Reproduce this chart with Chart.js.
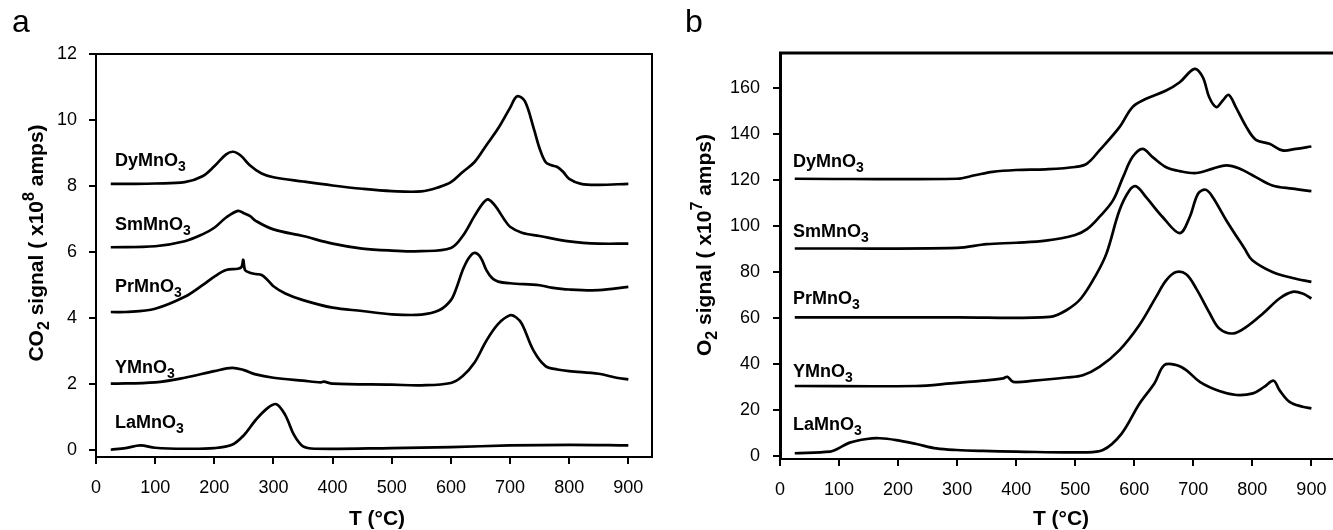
<!DOCTYPE html>
<html>
<head>
<meta charset="utf-8">
<script src="https://cdn.jsdelivr.net/npm/chart.js@4"></script>
<style>
  body { margin: 0; background: #fff; overflow: hidden; }
  #wrap { position: relative; width: 1333px; height: 530px; overflow: hidden; }
  canvas { position: absolute; top: 0; }
</style>
</head>
<body>
<div id="wrap">
  <canvas id="chartA" width="666" height="530" style="left:0"></canvas>
  <canvas id="chartB" width="690" height="530" style="left:666px"></canvas>
</div>
<script>
// ---- panel a: CO2 signal (x10^8 amps) vs T (°C) ----
const laCO2T = [25, 50, 75, 100, 150, 200, 230, 250, 270, 290, 305, 320, 335, 350, 370, 500, 600, 700, 800, 900];
const laCO2 = [0.02, 0.07, 0.15, 0.08, 0.05, 0.07, 0.17, 0.46, 0.92, 1.28, 1.4, 1.07, 0.46, 0.12, 0.05, 0.07, 0.1, 0.15, 0.17, 0.15];

const yCO2T = [25, 100, 150, 200, 230, 250, 270, 300, 350, 380, 385, 400, 500, 550, 600, 620, 640, 660, 680, 700, 710, 720, 740, 760, 780, 800, 850, 880, 900];
const yCO2 = [2.02, 2.06, 2.2, 2.4, 2.5, 2.43, 2.3, 2.2, 2.11, 2.06, 2.08, 2.02, 1.99, 1.97, 2.04, 2.25, 2.66, 3.32, 3.83, 4.09, 4.03, 3.83, 3.01, 2.55, 2.45, 2.4, 2.32, 2.2, 2.15];

const prCO2T = [25, 50, 100, 150, 180, 200, 220, 240, 246, 249, 252, 260, 270, 280, 290, 300, 320, 350, 400, 450, 500, 550, 580, 600, 610, 620, 630, 640, 650, 660, 670, 680, 700, 750, 770, 800, 850, 900];
const prCO2 = [4.19, 4.19, 4.29, 4.65, 5.0, 5.26, 5.46, 5.5, 5.55, 5.77, 5.46, 5.38, 5.34, 5.31, 5.16, 4.97, 4.75, 4.55, 4.32, 4.22, 4.12, 4.11, 4.24, 4.55, 4.95, 5.46, 5.82, 5.98, 5.85, 5.46, 5.21, 5.11, 5.06, 5.0, 4.93, 4.87, 4.85, 4.95];

const smCO2T = [25, 100, 150, 180, 200, 220, 240, 250, 260, 270, 300, 350, 400, 450, 500, 550, 600, 620, 640, 655, 663, 675, 690, 700, 720, 750, 800, 850, 900];
const smCO2 = [6.15, 6.18, 6.33, 6.54, 6.74, 7.05, 7.25, 7.18, 7.1, 6.95, 6.69, 6.49, 6.26, 6.11, 6.05, 6.03, 6.13, 6.49, 7.1, 7.5, 7.6, 7.4, 7.0, 6.77, 6.59, 6.49, 6.33, 6.26, 6.26];

const dyCO2T = [25, 60, 100, 150, 180, 200, 220, 232, 245, 260, 280, 300, 350, 400, 450, 500, 550, 580, 600, 620, 640, 660, 680, 700, 712, 725, 740, 750, 760, 770, 780, 790, 800, 820, 850, 900];
const dyCO2 = [8.07, 8.07, 8.08, 8.12, 8.3, 8.6, 8.96, 9.04, 8.92, 8.63, 8.38, 8.27, 8.14, 8.02, 7.92, 7.85, 7.84, 7.97, 8.12, 8.43, 8.73, 9.24, 9.75, 10.37, 10.72, 10.57, 9.75, 9.14, 8.73, 8.63, 8.58, 8.43, 8.22, 8.07, 8.04, 8.07];

// ---- panel b: O2 signal (x10^7 amps) vs T (°C) ----
const laO2T = [25, 85, 96, 118, 147, 169, 197, 231, 265, 299, 344, 400, 513, 547, 578, 609, 634, 651, 671, 688, 711, 744, 773, 801, 820, 836, 846, 863, 885, 900];
const laO2 = [1.2, 1.9, 2.9, 5.8, 7.4, 7.7, 6.9, 5.2, 3.3, 2.6, 2.2, 1.9, 1.6, 2.6, 9.5, 22.8, 31.5, 39.5, 39.5, 37.3, 32.2, 28.2, 26.5, 27.2, 30, 32.7, 28.6, 23.5, 21.4, 20.7];

const yO2T = [25, 230, 290, 344, 378, 385, 395, 430, 485, 513, 541, 575, 609, 637, 654, 671, 688, 705, 728, 744, 767, 790, 818, 846, 868, 885, 900];
const yO2 = [30.4, 30.4, 31.5, 32.7, 33.7, 34.4, 32.2, 32.7, 34.1, 35.1, 38.7, 46, 57, 69.1, 76.3, 79.9, 78.9, 72.7, 61.9, 55.4, 53.2, 56.1, 61.9, 68.4, 71.3, 70.6, 68.4];

const prO2T = [25, 300, 457, 485, 510, 536, 553, 575, 592, 603, 620, 648, 677, 694, 708, 721, 733, 756, 787, 800, 834, 868, 900];
const prO2 = [60.2, 60.2, 60.4, 63.3, 68.5, 79, 88, 106.7, 115.4, 117.1, 112.4, 103.8, 96.8, 103.8, 113.9, 115.6, 112.4, 102.3, 90, 85, 79.9, 77.3, 75.6];

const smO2T = [25, 300, 350, 400, 450, 500, 520, 541, 564, 581, 597, 614, 631, 654, 677, 705, 733, 756, 778, 806, 834, 868, 900];
const smO2 = [90.1, 90.4, 92, 92.6, 93.5, 96, 98.5, 103.8, 111, 121.1, 129.8, 133.4, 129.8, 125.4, 123.7, 122.9, 124.8, 126.2, 124.8, 121.1, 117.5, 116.1, 115];

const dyO2T = [25, 300, 330, 360, 400, 450, 500, 520, 541, 575, 597, 620, 654, 677, 702, 716, 727, 739, 750, 760, 772, 790, 806, 829, 851, 874, 900];
const dyO2 = [120.4, 120.4, 121.9, 123.4, 124.2, 124.5, 125.5, 127, 132.7, 142.8, 151.5, 155.1, 158.7, 162.3, 168.1, 164.5, 155.8, 151.5, 154.4, 156.8, 151.5, 142.8, 137.3, 135.6, 132.7, 133.4, 134.4];

// labels and ticks
const compounds = ['LaMnO', 'YMnO', 'PrMnO', 'SmMnO', 'DyMnO'];
const tempTicks = [0, 100, 200, 300, 400, 500, 600, 700, 800, 900];
const co2Ticks = [0, 2, 4, 6, 8, 10, 12];
const o2Ticks = [0, 20, 40, 60, 80, 100, 120, 140, 160];

const FONT = '"Liberation Sans", Arial, Helvetica, sans-serif';

const toPoints = (ts, vs) => ts.map((t, i) => ({ x: t, y: vs[i] }));

function lineSet(ts, vs) {
  return {
    data: toPoints(ts, vs),
    borderColor: '#000',
    borderWidth: 2.7,
    pointRadius: 0,
    fill: false,
    tension: 0.35
  };
}

// draws text made of normal / sub / sup pieces (alphabetic baseline at y)
function richText(ctx, parts, x, y, size, align) {
  const fonts = parts.map(p => `bold ${p[1] === 'n' ? size : Math.round(size * 0.78)}px ${FONT}`);
  let w = 0;
  parts.forEach((p, i) => { ctx.font = fonts[i]; w += ctx.measureText(p[0]).width; });
  let cx = align === 'center' ? x - w / 2 : x;
  parts.forEach((p, i) => {
    ctx.font = fonts[i];
    const dy = p[1] === 'sub' ? size * 0.28 : p[1] === 'sup' ? -size * 0.42 : 0;
    ctx.fillText(p[0], cx, y + dy);
    cx += ctx.measureText(p[0]).width;
  });
}

const panelDecor = {
  id: 'panelDecor',
  afterDraw(chart, args, o) {
    const { ctx, chartArea: a, scales } = chart;
    ctx.save();
    ctx.strokeStyle = '#000';
    ctx.lineWidth = o.frameWidth;
    ctx.beginPath();
    ctx.moveTo(a.left - 1, a.top);
    ctx.lineTo(a.right, a.top);
    ctx.lineTo(a.right, a.bottom);
    ctx.stroke();

    ctx.fillStyle = '#000';
    ctx.textAlign = 'left';
    ctx.textBaseline = 'alphabetic';

    // panel letter
    ctx.font = `32px ${FONT}`;
    ctx.fillText(o.letter, o.letterX, 32);

    // x title
    richText(ctx, [['T (°C)', 'n']], o.xTitleX, 525, 21, 'center');

    // y title, rotated
    ctx.save();
    ctx.translate(o.yTitleX, o.yTitleY);
    ctx.rotate(-Math.PI / 2);
    richText(ctx, o.yTitle, 0, 0, 21, 'center');
    ctx.restore();

    // compound labels
    const lx = scales.x.getPixelForValue(o.labelT);
    compounds.forEach((name, i) => {
      const ly = scales.y.getPixelForValue(o.labelLevels[i]);
      richText(ctx, [[name, 'n'], ['3', 'sub']], lx, ly, 18, 'left');
    });
    ctx.restore();
  }
};

function axisStyle(tickLen, padding, borderWidth) {
  return {
    grid: { drawOnChartArea: false, drawTicks: true, tickLength: tickLen, color: '#000', lineWidth: 2 },
    border: { display: true, color: '#000', width: borderWidth },
    ticks: { color: '#000', padding: padding, font: { family: FONT, size: 18 } }
  };
}

function makeChart(id, sets, cfg) {
  const xs = axisStyle(7, 13, 2);
  const ys = axisStyle(7, cfg.yPad, cfg.frameWidth);
  return new Chart(document.getElementById(id), {
    type: 'line',
    data: { datasets: sets },
    options: {
      responsive: false,
      animation: false,
      devicePixelRatio: 1,
      layout: { padding: { left: 0, top: cfg.top, right: cfg.right, bottom: 0 } },
      plugins: { legend: { display: false }, tooltip: { enabled: false }, panelDecor: cfg.decor },
      scales: {
        x: Object.assign(xs, {
          type: 'linear', min: 0, max: 940,
          afterBuildTicks: s => { s.ticks = tempTicks.map(v => ({ value: v })); },
          afterFit: s => { s.height = cfg.xHeight; }
        }),
        y: Object.assign(ys, {
          type: 'linear', min: cfg.yMin, max: cfg.yMax,
          afterBuildTicks: s => { s.ticks = cfg.yTicks.map(v => ({ value: v })); },
          afterFit: s => { s.width = cfg.yWidth; }
        })
      }
    },
    plugins: [panelDecor]
  });
}

makeChart('chartA', [
  lineSet(laCO2T, laCO2), lineSet(yCO2T, yCO2), lineSet(prCO2T, prCO2),
  lineSet(smCO2T, smCO2), lineSet(dyCO2T, dyCO2)
], {
  top: 54, right: 14, xHeight: 73, yWidth: 96, yPad: 12, frameWidth: 2,
  yMin: -0.2, yMax: 12, yTicks: co2Ticks,
  decor: {
    letter: 'a', letterX: 12, frameWidth: 2,
    xTitleX: 377, yTitleX: 43, yTitleY: 243,
    yTitle: [['CO', 'n'], ['2', 'sub'], [' signal ( x10', 'n'], ['8', 'sup'], [' amps)', 'n']],
    labelT: 32, labelLevels: [0.69, 2.33, 4.79, 6.68, 8.62]
  }
});

makeChart('chartB', [
  lineSet(laO2T, laO2), lineSet(yO2T, yO2), lineSet(prO2T, prO2),
  lineSet(smO2T, smO2), lineSet(dyO2T, dyO2)
], {
  top: 53, right: 21, xHeight: 71, yWidth: 114, yPad: 13, frameWidth: 3,
  yMin: -1.3, yMax: 175, yTicks: o2Ticks,
  decor: {
    letter: 'b', letterX: 19, frameWidth: 3,
    xTitleX: 395, yTitleX: 45, yTitleY: 245,
    yTitle: [['O', 'n'], ['2', 'sub'], [' signal ( x10', 'n'], ['7', 'sup'], [' amps)', 'n']],
    labelT: 22, labelLevels: [11.3, 34.4, 66.2, 95, 125.3]
  }
});
</script>
</body>
</html>
